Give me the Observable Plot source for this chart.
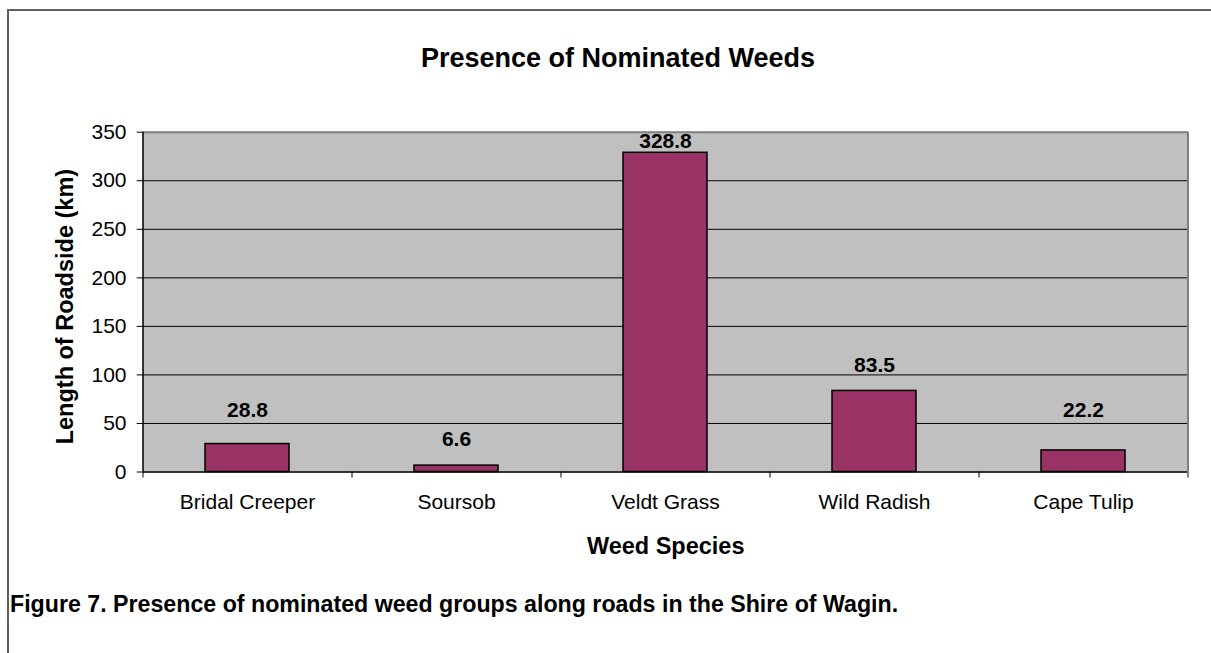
<!DOCTYPE html>
<html>
<head>
<meta charset="utf-8">
<script src="https://cdn.jsdelivr.net/npm/d3@7"></script>
<script src="https://cdn.jsdelivr.net/npm/@observablehq/plot@0.6"></script>
<style>
  html, body { margin: 0; padding: 0; background: #ffffff; }
  #page { position: relative; width: 1211px; height: 653px; overflow: hidden; background: #ffffff;
          font-family: "Liberation Sans", Arial, Helvetica, sans-serif; color: #000; }
  #chart { position: absolute; left: 0; top: 0; }
  #border { position: absolute; left: 7px; top: 9px; right: -2px; bottom: -2px;
            border-left: 2px solid #5f5f5f; border-top: 2px solid #5f5f5f; pointer-events: none; }
  #title { position: absolute; left: 618px; top: 45px; transform: translateX(-50%); white-space: nowrap;
           font-size: 27px; line-height: 27px; font-weight: bold; }
  #caption { position: absolute; left: 10px; top: 593px; white-space: nowrap;
             font-size: 23.2px; line-height: 23px; font-weight: bold; }
</style>
</head>
<body>
<div id="page">
  <div id="chart"></div>
  <div id="border"></div>
  <div id="title"></div>
  <div id="caption"></div>
</div>
<script>
// ---- data ----
const species = ["Bridal Creeper", "Soursob", "Veldt Grass", "Wild Radish", "Cape Tulip"];
const lengths = [28.8, 6.6, 328.8, 83.5, 22.2];
const yTicks = [0, 50, 100, 150, 200, 250, 300, 350];
const titleText = "Presence of Nominated Weeds";
const yTitle = "Length of Roadside (km)";
const xTitle = "Weed Species";
const captionText = "Figure 7. Presence of nominated weed groups along roads in the Shire of Wagin.";

const rows = species.map((s, i) => ({species: s, value: lengths[i]}));

// label placement rule (data units): above the bar, nudged above a gridline it would cross, kept inside the plot
function labelY(v) {
  let y = v + 20;
  for (const g of yTicks) if (y < g && y + 15 > g) y = g + 6.5;
  return Math.min(y, 334.2);
}

const W = 1211, H = 653;
const mL = 142.7, mR = 23.3, mT = 131.7, mB = 181.5;
const step = (W - mL - mR) / species.length;
const font = "'Liberation Sans', Arial, Helvetica, sans-serif";

const plot = Plot.plot({
  width: W, height: H,
  marginLeft: mL, marginRight: mR, marginTop: mT, marginBottom: mB,
  style: {fontFamily: font, fontSize: "21px", color: "#000", background: "transparent", overflow: "visible"},
  x: {type: "band", domain: species, paddingInner: 0.6, paddingOuter: 0.3},
  y: {domain: [0, 350]},
  marks: [
    Plot.frame({fill: "#c0c0c0", stroke: "#c0c0c0"}),
    Plot.ruleY(yTicks.filter(t => t > 0 && t < 350), {stroke: "#000", strokeWidth: 1}),
    Plot.ruleY([350], {stroke: "#808080", strokeWidth: 2}),
    Plot.ruleX([species[species.length - 1]], {dx: step / 2, stroke: "#808080", strokeWidth: 2}),
    Plot.barY(rows, {x: "species", y: "value", fill: "#993366", stroke: "#000", strokeWidth: 1.5}),
    Plot.ruleY([0], {stroke: "#000", strokeWidth: 1.5}),
    Plot.ruleX([species[0]], {dx: -step / 2, stroke: "#000", strokeWidth: 1.5}),
    // category boundary ticks below the axis
    Plot.ruleX(species, {x: d => d, dx: -step / 2, y1: 0, y2: 0, insetBottom: -6, stroke: "#000", strokeWidth: 1}),
    Plot.ruleX([species[species.length - 1]], {x: d => d, dx: step / 2, y1: 0, y2: 0, insetBottom: -6, stroke: "#808080", strokeWidth: 2}),
    Plot.axisY({ticks: yTicks, tickSize: 6, tickPadding: 10.7, tickFormat: d => String(d), fontSize: 21, label: null, stroke: "#000"}),
    Plot.axisX({tickSize: 0, tickPadding: 21.9, fontSize: 21, label: null}),
    Plot.text(rows, {x: "species", y: d => labelY(d.value), text: d => d.value.toFixed(1),
      lineAnchor: "bottom", fontWeight: "bold", fontSize: 21, fill: "#000"}),
    Plot.text([yTitle], {text: d => d, frameAnchor: "left", textAnchor: "middle", rotate: -90, dx: -70, dy: 4.5,
      lineAnchor: "bottom", fontWeight: "bold", fontSize: 23.5, fill: "#000"}),
    Plot.text([xTitle], {text: d => d, frameAnchor: "bottom", dy: 81.5,
      lineAnchor: "bottom", fontWeight: "bold", fontSize: 23.5, fill: "#000"})
  ]
});
document.getElementById("chart").appendChild(plot);
document.getElementById("title").textContent = titleText;
document.getElementById("caption").textContent = captionText;
</script>
</body>
</html>
